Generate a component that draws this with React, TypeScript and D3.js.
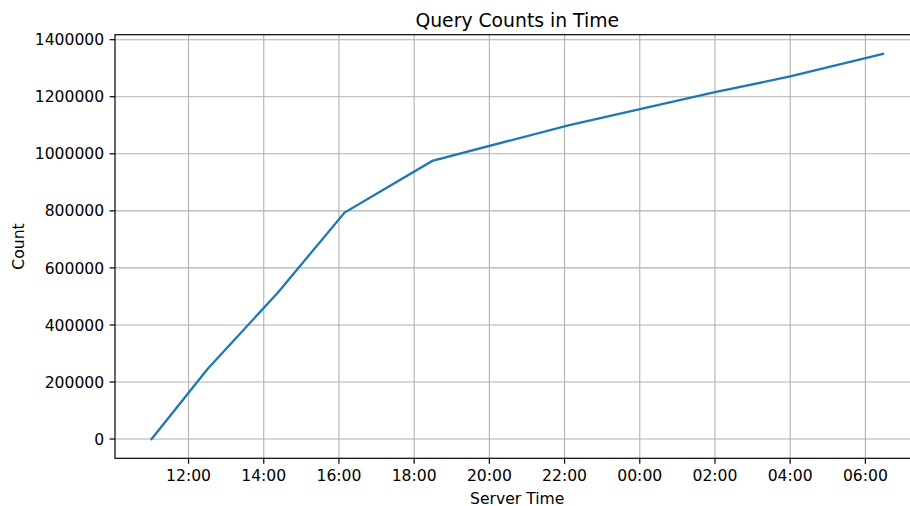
import React, { useEffect, useRef } from "react";
import * as d3 from "d3";

// Cumulative query counts by server time
const times: string[] = [
  "2019-01-01T11:01",
  "2019-01-01T12:30",
  "2019-01-01T14:22",
  "2019-01-01T16:09",
  "2019-01-01T18:29",
  "2019-01-01T22:06",
  "2019-01-02T02:00",
  "2019-01-02T04:00",
  "2019-01-02T06:28",
];
const counts: number[] = [0, 245000, 512000, 794000, 975000, 1100000, 1216000, 1271000, 1350000];
const yTicks: number[] = [0, 200000, 400000, 600000, 800000, 1000000, 1200000, 1400000];

const W = 910;
const H = 506;
const FONT = "DejaVu Sans, sans-serif";

export default function App() {
  const ref = useRef<SVGSVGElement>(null);

  useEffect(() => {
    const svg = d3.select(ref.current);
    svg.selectAll("*").remove();

    const parse = d3.utcParse("%Y-%m-%dT%H:%M");
    const data = times.map((t, i) => ({ t: parse(t) as Date, v: counts[i] }));

    const left = 115;
    const right = 919.5;
    const top = 34.7;
    const bottom = 458.3;

    // 5% padding around the data extent, like matplotlib's default margins
    const [t0, t1] = d3.extent(data, (d) => +d.t) as [number, number];
    const tPad = (t1 - t0) * 0.05;
    const [v0, v1] = d3.extent(data, (d) => d.v) as [number, number];
    const vPad = (v1 - v0) * 0.05;

    const x = d3.scaleUtc().domain([new Date(t0 - tPad), new Date(t1 + tPad)]).range([left, right]);
    const y = d3.scaleLinear().domain([v0 - vPad, v1 + vPad]).range([bottom, top]);

    const xTicks = x.ticks(d3.utcHour.every(2) as d3.TimeInterval);
    const fmt = d3.utcFormat("%H:%M");

    const grid = svg.append("g").attr("stroke", "#b0b0b0").attr("stroke-width", 1.1);
    xTicks.forEach((t) => {
      grid.append("line").attr("x1", x(t)).attr("x2", x(t)).attr("y1", top).attr("y2", bottom);
    });
    yTicks.forEach((v) => {
      grid.append("line").attr("x1", left).attr("x2", right).attr("y1", y(v)).attr("y2", y(v));
    });

    const line = d3
      .line<{ t: Date; v: number }>()
      .x((d) => x(d.t))
      .y((d) => y(d.v));
    svg
      .append("path")
      .datum(data)
      .attr("d", line)
      .attr("fill", "none")
      .attr("stroke", "#1f77b4")
      .attr("stroke-width", 2.3)
      .attr("stroke-linecap", "square");

    // spines
    const sp = svg.append("g").attr("stroke", "#000").attr("stroke-width", 1.2).attr("fill", "none");
    sp.append("rect").attr("x", left).attr("y", top).attr("width", right - left).attr("height", bottom - top);

    // x ticks
    const xt = svg.append("g");
    xTicks.forEach((t) => {
      xt.append("line")
        .attr("x1", x(t)).attr("x2", x(t))
        .attr("y1", bottom).attr("y2", bottom + 5.4)
        .attr("stroke", "#000").attr("stroke-width", 1.2);
      xt.append("text")
        .attr("x", x(t)).attr("y", bottom + 10.8)
        .attr("dy", "0.76em")
        .attr("text-anchor", "middle")
        .attr("font-family", FONT).attr("font-size", 15.6)
        .text(fmt(t));
    });

    // y ticks
    const yt = svg.append("g");
    yTicks.forEach((v) => {
      yt.append("line")
        .attr("x1", left - 5.4).attr("x2", left)
        .attr("y1", y(v)).attr("y2", y(v))
        .attr("stroke", "#000").attr("stroke-width", 1.2);
      yt.append("text")
        .attr("x", left - 10.8).attr("y", y(v))
        .attr("dy", "0.36em")
        .attr("text-anchor", "end")
        .attr("font-family", FONT).attr("font-size", 15.6)
        .text(d3.format("d")(v));
    });

    svg.append("text")
      .attr("x", (left + 919.5) / 2).attr("y", 26.5)
      .attr("text-anchor", "middle")
      .attr("font-family", FONT).attr("font-size", 18.8)
      .text("Query Counts in Time");

    svg.append("text")
      .attr("x", (left + 919.5) / 2).attr("y", 503.5)
      .attr("text-anchor", "middle")
      .attr("font-family", FONT).attr("font-size", 15.6)
      .text("Server Time");

    svg.append("text")
      .attr("transform", `translate(24, ${(top + bottom) / 2}) rotate(-90)`)
      .attr("text-anchor", "middle")
      .attr("font-family", FONT).attr("font-size", 15.6)
      .text("Count");
  }, []);

  return (
    <svg
      ref={ref}
      width={W}
      height={H}
      style={{ position: "absolute", left: 0, top: 0, background: "#fff" }}
    />
  );
}
